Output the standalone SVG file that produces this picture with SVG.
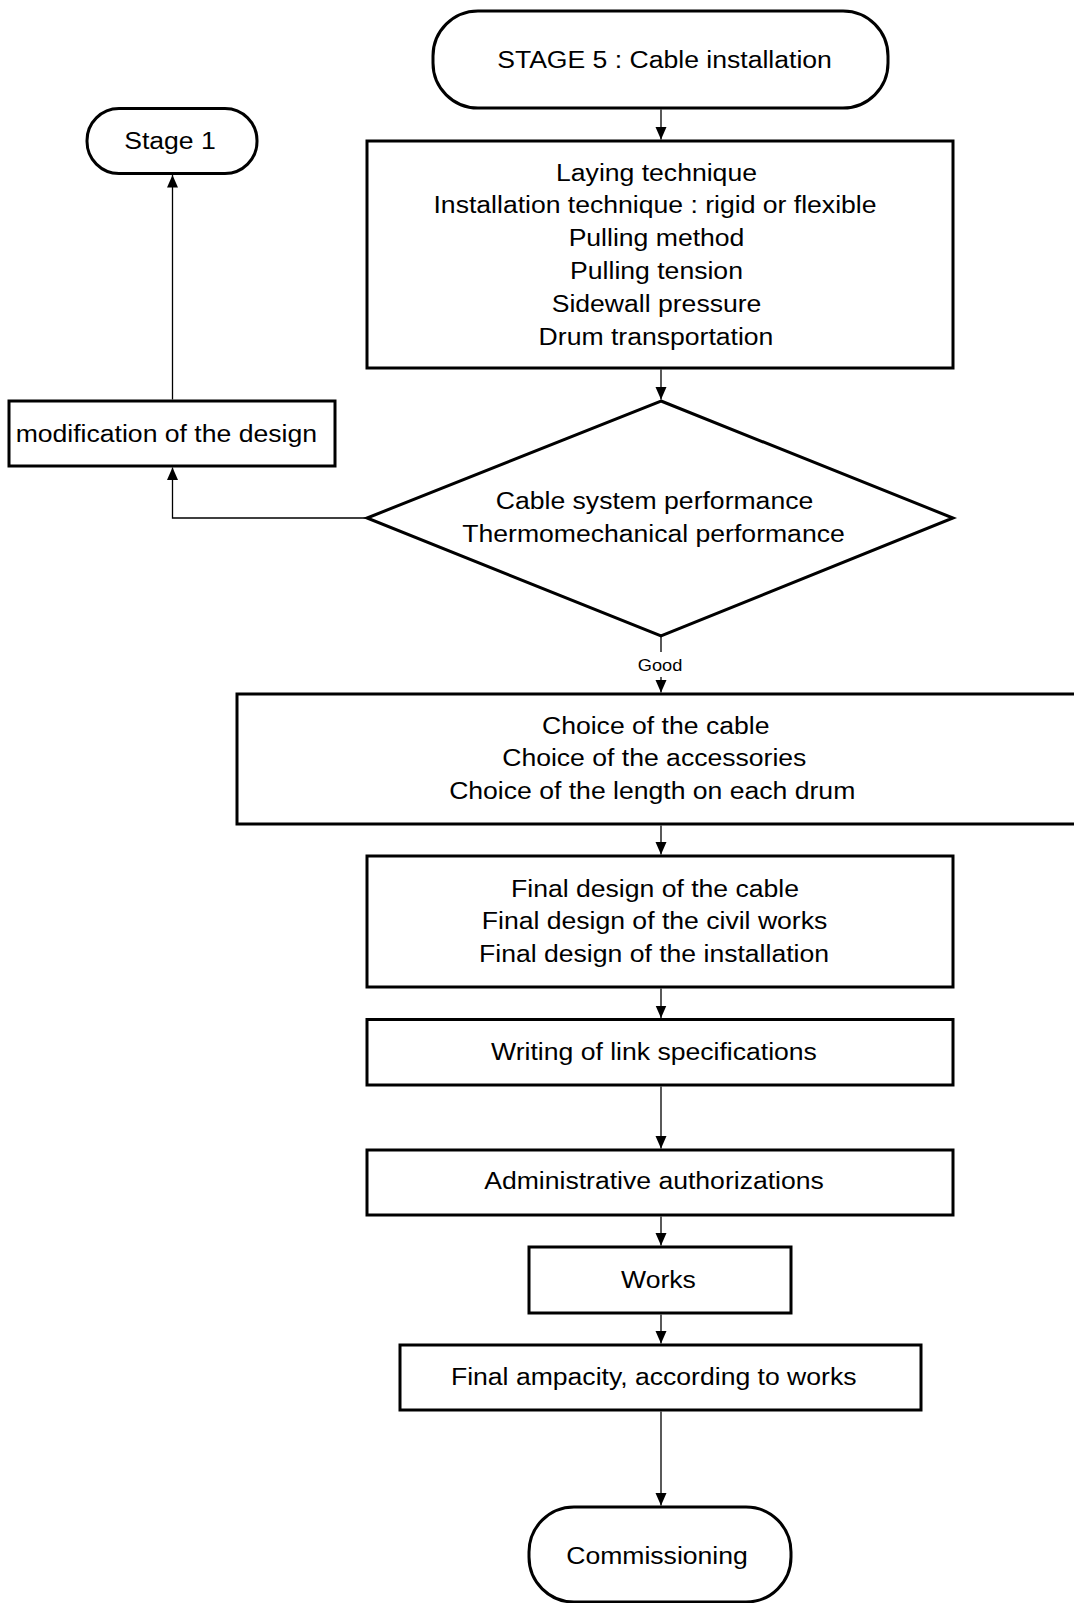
<svg xmlns="http://www.w3.org/2000/svg" width="1074" height="1603" viewBox="0 0 1074 1603">
<style>
  .box{fill:#fff;stroke:#000;stroke-width:3}
  .t{font-family:"Liberation Sans",Arial,sans-serif;font-size:24.5px;text-anchor:middle;fill:#000}
  .s{font-family:"Liberation Sans",Arial,sans-serif;font-size:16.8px;text-anchor:middle;fill:#000}
  .c{fill:none;stroke:#000;stroke-width:1.3;marker-end:url(#ah)}
</style>
<defs>
  <marker id="ah" markerUnits="userSpaceOnUse" markerWidth="13" markerHeight="12" refX="12.5" refY="6" orient="auto">
    <path d="M0,0.5 L12.5,6 L0,11.5 z" fill="#000"/>
  </marker>
</defs>
<rect width="1074" height="1603" fill="#fff"/>

<g id="connectors">
  <path class="c" d="M661,109.5 V139.5"/>
  <path class="c" d="M661,369.5 V399.5"/>
  <path class="c" d="M367,518 H172.5 V467.5"/>
  <path class="c" d="M172.5,399.5 V175"/>
  <path class="c" d="M661,637 V652 M661,677 V692.5"/>
  <path class="c" d="M661,825.5 V854.5"/>
  <path class="c" d="M661,988.5 V1018"/>
  <path class="c" d="M661,1086.5 V1148.5"/>
  <path class="c" d="M661,1216.5 V1245.5"/>
  <path class="c" d="M661,1314.5 V1343.5"/>
  <path class="c" d="M661,1411.5 V1505.5"/>
  <text class="s" transform="translate(660,670.7) scale(1.085,1)">Good</text>
</g>

<g id="stage5">
  <rect class="box" x="433" y="11" width="455" height="97" rx="45" ry="45"/>
  <text class="t" transform="translate(664.5,68.3) scale(1.085,1)">STAGE 5 : Cable installation</text>
</g>

<g id="stage1">
  <rect class="box" x="87" y="108.5" width="170" height="65" rx="32" ry="32"/>
  <text class="t" transform="translate(170,149.3) scale(1.085,1)">Stage 1</text>
</g>

<g id="laying">
  <rect class="box" x="367" y="141" width="586" height="227"/>
  <text class="t" transform="translate(656.5,180.5) scale(1.085,1)">Laying technique</text>
  <text class="t" transform="translate(655,213.3) scale(1.085,1)">Installation technique : rigid or flexible</text>
  <text class="t" transform="translate(656.5,246) scale(1.085,1)">Pulling method</text>
  <text class="t" transform="translate(656.5,279) scale(1.085,1)">Pulling tension</text>
  <text class="t" transform="translate(656.5,311.7) scale(1.085,1)">Sidewall pressure</text>
  <text class="t" transform="translate(656,344.5) scale(1.085,1)">Drum transportation</text>
</g>

<g id="modification">
  <rect class="box" x="9" y="401" width="326" height="65"/>
  <text class="t" transform="translate(166.3,442) scale(1.085,1)">modification of the design</text>
</g>

<g id="decision">
  <polygon class="box" points="661,401 953,518 661,636 367,518"/>
  <text class="t" transform="translate(654.5,508.7) scale(1.085,1)">Cable system performance</text>
  <text class="t" transform="translate(653.5,541.7) scale(1.085,1)">Thermomechanical performance</text>
</g>

<g id="choice">
  <rect class="box" x="237" y="694" width="900" height="130"/>
  <text class="t" transform="translate(655.7,733.5) scale(1.085,1)">Choice of the cable</text>
  <text class="t" transform="translate(654.3,766) scale(1.085,1)">Choice of the accessories</text>
  <text class="t" transform="translate(652.2,799) scale(1.085,1)">Choice of the length on each drum</text>
</g>

<g id="finaldesign">
  <rect class="box" x="367" y="856" width="586" height="131"/>
  <text class="t" transform="translate(655,896.5) scale(1.085,1)">Final design of the cable</text>
  <text class="t" transform="translate(654.5,929.2) scale(1.085,1)">Final design of the civil works</text>
  <text class="t" transform="translate(654,962.2) scale(1.085,1)">Final design of the installation</text>
</g>

<g id="writing">
  <rect class="box" x="367" y="1019.5" width="586" height="65.5"/>
  <text class="t" transform="translate(654,1059.5) scale(1.085,1)">Writing of link specifications</text>
</g>

<g id="admin">
  <rect class="box" x="367" y="1150" width="586" height="65"/>
  <text class="t" transform="translate(654,1189.3) scale(1.085,1)">Administrative authorizations</text>
</g>

<g id="works">
  <rect class="box" x="529" y="1247" width="262" height="66"/>
  <text class="t" transform="translate(658.5,1288.3) scale(1.085,1)">Works</text>
</g>

<g id="ampacity">
  <rect class="box" x="400" y="1345" width="521" height="65"/>
  <text class="t" transform="translate(653.7,1385) scale(1.085,1)">Final ampacity, according to works</text>
</g>

<g id="commissioning">
  <rect class="box" x="529" y="1507" width="262" height="95" rx="45" ry="45"/>
  <text class="t" transform="translate(657,1564.3) scale(1.085,1)">Commissioning</text>
</g>
</svg>
